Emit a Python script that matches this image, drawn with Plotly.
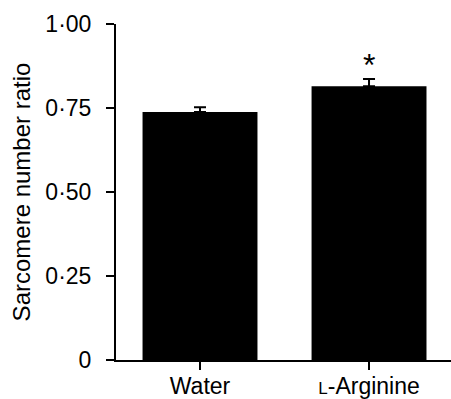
import plotly.graph_objects as go

categories = ["Water", "L-Arginine"]
category_labels = ["Water", "<span style='font-size:17px'>L</span>-Arginine"]
means = [0.738, 0.815]
errors = [0.014, 0.021]
significance = ["", "*"]
y_tick_vals = [0, 0.25, 0.5, 0.75, 1.0]
y_tick_text = ["0", "0·25", "0·50", "0·75", "1·00"]

fig = go.Figure()
fig.add_trace(go.Bar(
    x=categories, y=means,
    marker=dict(color="black", line=dict(width=0)),
    width=0.68,
    error_y=dict(type="data", array=errors, symmetric=False, arrayminus=[0, 0],
                 color="black", thickness=2, width=6),
))
for c, m, e, s in zip(categories, means, errors, significance):
    if s:
        fig.add_annotation(x=c, y=m + e, text=s, showarrow=False, yanchor="bottom",
                           yshift=-6, font=dict(size=32, color="black"))

font = "Liberation Sans, Arial, sans-serif"
fig.update_layout(
    width=451, height=399,
    margin=dict(l=116, r=0, t=24, b=39),
    plot_bgcolor="white", paper_bgcolor="white",
    showlegend=False,
    font=dict(family=font, size=23, color="black"),
    xaxis=dict(
        range=[-0.497, 1.485],
        tickvals=categories, ticktext=category_labels,
        showline=True, linecolor="black", linewidth=2,
        ticks="outside", ticklen=8, tickwidth=2, tickcolor="black",
        ticklabelstandoff=-4,
        showgrid=False, zeroline=False, automargin=False,
        tickfont=dict(size=23),
    ),
    yaxis=dict(
        range=[0, 1],
        tickvals=y_tick_vals, ticktext=y_tick_text,
        showline=True, linecolor="black", linewidth=2,
        ticks="outside", ticklen=8, tickwidth=2, tickcolor="black",
        ticklabelstandoff=10,
        showgrid=False, zeroline=False, automargin=False,
        title=dict(text="Sarcomere number ratio", font=dict(size=24), standoff=8),
        tickfont=dict(size=23),
    ),
)
fig.write_html("out.html")
